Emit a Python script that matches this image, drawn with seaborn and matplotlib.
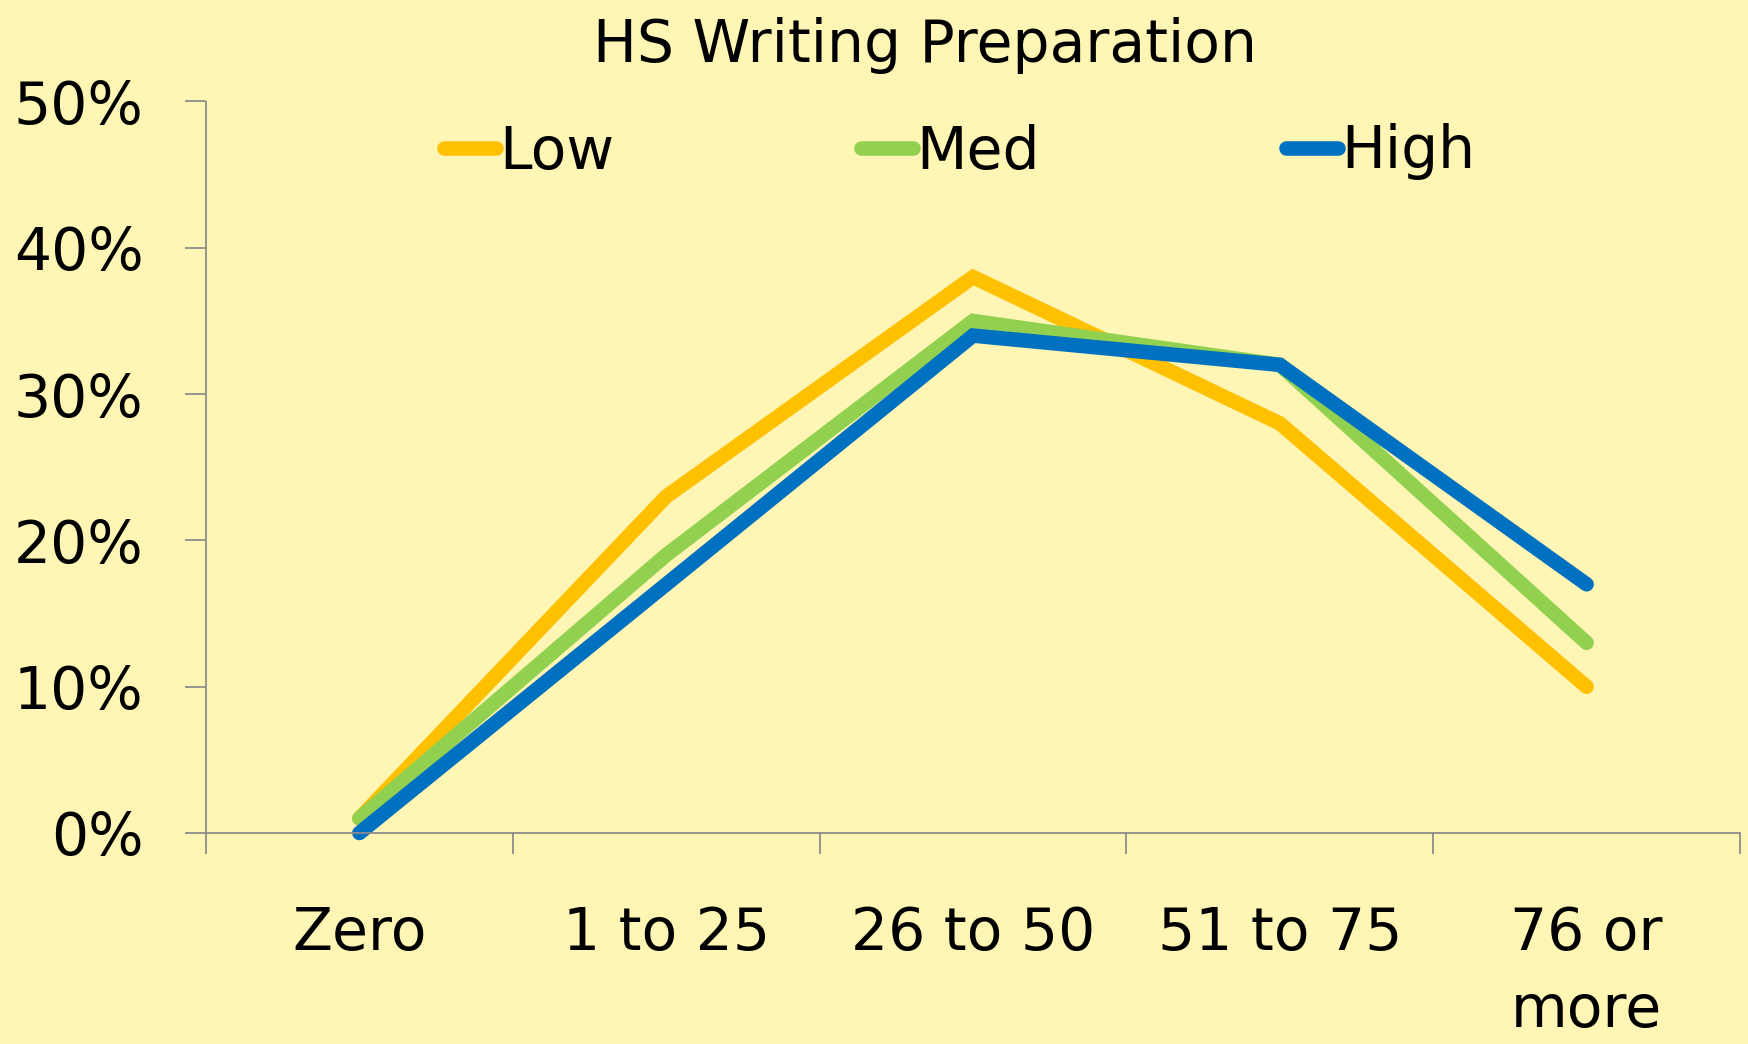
import numpy as np
import pandas as pd
import matplotlib
matplotlib.use("Agg")
import matplotlib.pyplot as plt
import matplotlib.ticker as mticker
import seaborn as sns

# dados do gráfico
categorias = ["Zero", "1 to 25", "26 to 50", "51 to 75", "76 or\nmore"]
low = [0.01, 0.23, 0.38, 0.28, 0.10]
med = [0.01, 0.19, 0.35, 0.32, 0.13]
high = [0.00, 0.17, 0.34, 0.32, 0.17]
series = ["Low", "Med", "High"]
cores = ["#FFC000", "#92D050", "#0070C0"]

dados = pd.DataFrame({
    "x": np.tile(np.arange(len(categorias)), 3),
    "valor": low + med + high,
    "grupo": np.repeat(series, len(categorias)),
})

fundo = "#FFF5B4"
W, H = 1749, 1044

sns.set_style("white")
plt.rcParams["font.family"] = ["DejaVu Sans"]
plt.rcParams["text.color"] = "black"
plt.rcParams["xtick.color"] = "black"
plt.rcParams["ytick.color"] = "black"

fig = plt.figure(figsize=(W / 100, H / 100), dpi=100, facecolor=fundo)
ax = fig.add_axes([206 / W, 1 - 833 / H, (1740 - 206) / W, (833 - 101.5) / H])
ax.set_facecolor(fundo)

sns.lineplot(
    data=dados, x="x", y="valor", hue="grupo", hue_order=series,
    palette=cores, linewidth=10.5, ax=ax, legend=False,
    solid_capstyle="round", solid_joinstyle="miter", clip_on=False,
)

ax.set_xlim(-0.5, len(categorias) - 0.5)
ax.set_ylim(0, 0.5)
ax.set_xlabel("")
ax.set_ylabel("")

# ticks
ax.yaxis.set_major_locator(mticker.MultipleLocator(0.1))
ax.yaxis.set_major_formatter(mticker.FuncFormatter(lambda v, p: f"{v:.0%}"))
ax.set_xticks(np.arange(len(categorias)))
ax.set_xticklabels(categorias, linespacing=1.45)
ax.set_xticks(np.arange(len(categorias) + 1) - 0.5, minor=True)

cinza = "#8C8C8C"
ax.tick_params(axis="y", which="major", length=15, width=1.3, color=cinza,
               labelcolor="black", direction="out", pad=30, labelsize=42,
               left=True)
ax.tick_params(axis="x", which="major", length=0, pad=52, labelsize=42,
               labelcolor="black")
ax.tick_params(axis="x", which="minor", length=15, width=1.3, color=cinza,
               direction="out", bottom=True)

for lado in ["top", "right"]:
    ax.spines[lado].set_visible(False)
for lado in ["left", "bottom"]:
    ax.spines[lado].set_color(cinza)
    ax.spines[lado].set_linewidth(1.3)

# título
fig.text(925 / W, 1 - 46 / H, "HS Writing Preparation", ha="center",
         va="center", fontsize=42, color="black")

# legenda
handles = [plt.Line2D([], [], color=c, linewidth=10.5, solid_capstyle="round")
           for c in cores]
ax.legend(handles, series, loc="center left", ncol=3, frameon=False,
          bbox_to_anchor=(444 / W, 1 - 152 / H), bbox_transform=fig.transFigure,
          borderaxespad=0, borderpad=0, fontsize=42, handlelength=0.9,
          handletextpad=0.05, columnspacing=4.22)

fig.savefig("out.png", dpi=100, facecolor=fundo)
